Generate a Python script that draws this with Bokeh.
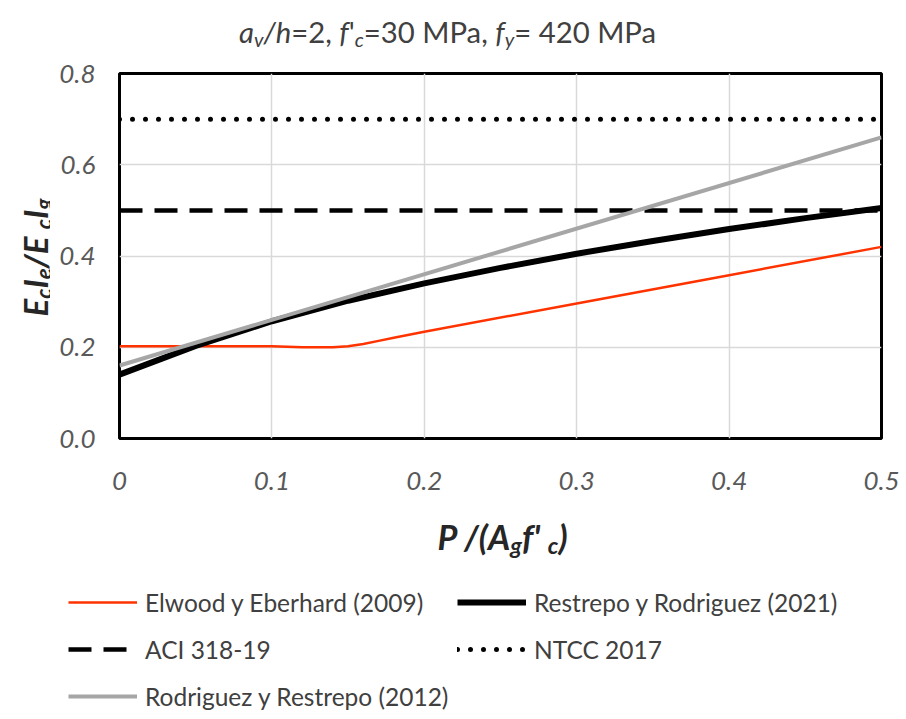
import glob, os, math
from bokeh.plotting import figure
from bokeh.layouts import column, row
from bokeh.models import Label, Legend, LegendItem, FixedTicker, Range1d
from bokeh.embed import file_html
from bokeh.resources import INLINE

# ---------------- data ----------------
x_ticks = [0, 0.1, 0.2, 0.3, 0.4, 0.5]
x_tick_labels = ["0", "0.1", "0.2", "0.3", "0.4", "0.5"]
y_ticks = [0, 0.2, 0.4, 0.6, 0.8]
y_tick_labels = ["0.0", "0.2", "0.4", "0.6", "0.8"]

elwood_x = [0.0, 0.10, 0.12, 0.14, 0.15, 0.16, 0.17, 0.18, 0.20, 0.30, 0.40, 0.50]
elwood_y = [0.202, 0.202, 0.200, 0.200, 0.202, 0.207, 0.214, 0.221, 0.234, 0.296, 0.358, 0.420]

restrepo_x = [0.0, 0.05, 0.10, 0.15, 0.20, 0.25, 0.30, 0.35, 0.40, 0.45, 0.50]
restrepo_y = [0.140, 0.203, 0.257, 0.302, 0.340, 0.374, 0.405, 0.433, 0.459, 0.483, 0.505]

aci_x = [0.0, 0.5]
aci_y = [0.5, 0.5]

ntcc_x = [0.0, 0.5]
ntcc_y = [0.7, 0.7]

rodriguez_x = [0.0, 0.5]
rodriguez_y = [0.16, 0.66]

series_names = ["Elwood y Eberhard (2009)", "Restrepo y Rodriguez (2021)",
                "ACI 318-19", "NTCC 2017", "Rodriguez y Restrepo (2012)"]

# ---------------- styles ----------------
STYLES = [
    dict(line_color="#ff3300", line_width=2.5),
    dict(line_color="black", line_width=6),
    dict(line_color="black", line_width=4.5, line_dash="23 12"),
    dict(line_color="black", line_width=5, line_dash="0 13", line_cap="round"),
    dict(line_color="#a6a6a6", line_width=4),
]

# ---------------- geometry / fonts ----------------
W, H = 906, 719
FL, FR, FT, FB = 119, 881, 73, 438      # plot frame in page pixels
LEFT_W = 50                             # width of y-label strip
TOP_H = 50                              # height of title strip
MAIN_BOTTOM = 502                       # bottom of main figure in page pixels
FONT = "Lato"

try:
    from PIL import ImageFont
except Exception:
    ImageFont = None

_font_files = {"normal": "Lato-Regular.ttf", "italic": "Lato-Italic.ttf",
               "bold": "Lato-Bold.ttf", "bold italic": "Lato-BoldItalic.ttf"}
_path_cache = {}


def find_font(fname):
    if fname in _path_cache:
        return _path_cache[fname]
    res = None
    for d in ["/usr/share/fonts", "/usr/local/share/fonts",
              os.path.expanduser("~/.fonts"), os.path.expanduser("~/.local/share/fonts")]:
        hits = glob.glob(os.path.join(d, "**", fname), recursive=True)
        if hits:
            res = hits[0]
            break
    _path_cache[fname] = res
    return res


def text_width(text, style, size):
    path = find_font(_font_files[style])
    if ImageFont is not None and path:
        try:
            f = ImageFont.truetype(path, 100)
            return f.getlength(text) * size / 100.0
        except Exception:
            pass
    return len(text) * size * 0.52


def helper(x0, x1, y0, y1, w, h):
    """Blank figure whose data coordinates equal page pixel coordinates
    (x0..x1, y0..y1 = page-pixel extent of its frame)."""
    f = figure(width=w, height=h, output_backend="svg", toolbar_location=None,
               x_range=Range1d(x0, x1), y_range=Range1d(y1, y0),
               x_axis_type=None, y_axis_type=None, min_border=0)
    try:
        f.title = None
    except Exception:
        f.title.visible = False
    f.outline_line_color = None
    f.background_fill_color = "white"
    f.border_fill_color = "white"
    return f


# ---------------- main plot ----------------
p = figure(width=W - LEFT_W, height=MAIN_BOTTOM - TOP_H, output_backend="svg", toolbar_location=None,
           x_range=Range1d(0.0, 0.5), y_range=Range1d(0.0, 0.8),
           min_border_left=FL - LEFT_W, min_border_right=W - FR,
           min_border_top=FT - TOP_H, min_border_bottom=MAIN_BOTTOM - FB)
try:
    p.title = None
except Exception:
    p.title.visible = False
p.background_fill_color = "white"
p.border_fill_color = "white"
p.outline_line_color = "black"
p.outline_line_width = 3

for ax, ticks, labels in ((p.xaxis[0], x_ticks, x_tick_labels), (p.yaxis[0], y_ticks, y_tick_labels)):
    ax.ticker = FixedTicker(ticks=ticks)
    ax.major_label_overrides = {t: l for t, l in zip(ticks, labels)}
    ax.axis_line_color = None
    ax.major_tick_line_color = None
    ax.minor_tick_line_color = None
    ax.major_tick_in = 0
    ax.major_tick_out = 0
    ax.major_label_text_font = FONT
    ax.major_label_text_font_style = "italic"
    ax.major_label_text_font_size = "26px"
    ax.major_label_text_color = "#595959"
p.xaxis[0].major_label_standoff = 33
p.yaxis[0].major_label_standoff = 24

p.xgrid.ticker = FixedTicker(ticks=x_ticks)
p.ygrid.ticker = FixedTicker(ticks=y_ticks)
p.grid.grid_line_color = "#d9d9d9"
p.grid.grid_line_width = 1.5

series = [(elwood_x, elwood_y), (restrepo_x, restrepo_y), (aci_x, aci_y),
          (ntcc_x, ntcc_y), (rodriguez_x, rodriguez_y)]
for (xs, ys), st in zip(series, STYLES):
    p.line(xs, ys, **st)


# ---------------- rich text ----------------
def rich_text(fig, pieces, cx, cy, target_len, color, vertical=False):
    unit = sum(text_width(t, s, 0.68 if sub else 1.0) for t, s, sub in pieces)
    size = target_len / unit
    sub_size = size * 0.68
    drop = size * 0.26
    pos = -target_len / 2.0
    for t, s, sub in pieces:
        fs = sub_size if sub else size
        w = text_width(t, s, fs)
        d = drop if sub else 0.0
        if not vertical:
            lab = Label(x=cx + pos, y=cy + d, text=t)
        else:
            lab = Label(x=cx + d, y=cy - pos, text=t, angle=math.pi / 2)
        lab.text_font = FONT
        lab.text_font_style = s
        lab.text_font_size = f"{fs:.1f}px"
        lab.text_color = color
        lab.text_align = "left"
        lab.text_baseline = "alphabetic"
        fig.add_layout(lab)
        pos += w


# title strip
p_title = helper(0, W, 0, TOP_H, W, TOP_H)
title_pieces = [("a", "italic", False), ("v", "italic", True), ("/h", "italic", False),
                ("=2, ", "normal", False), ("f", "italic", False), ("'", "normal", False),
                ("c", "italic", True), ("=30 MPa, ", "normal", False), ("f", "italic", False),
                ("y", "italic", True), ("= 420 MPa", "normal", False)]
rich_text(p_title, title_pieces, 447, 31, 417, "#404040")

# y-label strip (its frame is aligned with the main plot frame inside the row)
p_ylab = helper(0, LEFT_W, FT, FB, LEFT_W, MAIN_BOTTOM - TOP_H)
ylab_pieces = [("E", "bold italic", False), ("c", "bold italic", True), ("I", "bold italic", False),
               ("e", "bold italic", True), (" /E", "bold italic", False), ("c", "bold italic", True),
               ("I", "bold italic", False), ("g", "bold italic", True)]
rich_text(p_ylab, ylab_pieces, 34, 257, 118, "#262626", vertical=True)

# bottom strip: x label + legend
p_bot = helper(0, W, MAIN_BOTTOM, H, W, H - MAIN_BOTTOM)
xlab_pieces = [("P /(A", "bold italic", False), ("g", "bold italic", True),
               (" f'", "bold italic", False), ("c", "bold italic", True), (")", "bold italic", False)]
rich_text(p_bot, xlab_pieces, 502, 536, 130, "#262626")

# legend samples: same series and styles; their data lie outside this strip's ranges, so only
# the legend swatches are visible here
legend_renderers = [p_bot.line(xs, ys, **st) for (xs, ys), st in zip(series, STYLES)]
leg_size = 278.0 / text_width(series_names[0], "normal", 1.0)
ITEM_H, GAP = 30, 17


def make_legend(idx, left_px, top_px):
    n = len(idx)
    h = n * ITEM_H + (n - 1) * GAP
    lg = Legend(items=[LegendItem(label=series_names[i], renderers=[legend_renderers[i]]) for i in idx],
                orientation="vertical", location=(left_px, H - (top_px + h)),
                padding=0, margin=0, spacing=GAP,
                glyph_width=69, glyph_height=ITEM_H, label_height=ITEM_H, label_standoff=8,
                label_text_font=FONT, label_text_font_size=f"{leg_size:.1f}px",
                label_text_color="#404040", border_line_color=None,
                background_fill_alpha=0)
    p_bot.add_layout(lg, "center")


make_legend([0, 2, 4], 68, 587)
make_legend([1, 3], 457, 587)

layout = column(p_title, row(p_ylab, p, spacing=0), p_bot, spacing=0)
open("out.html", "w").write(file_html(layout, INLINE))
